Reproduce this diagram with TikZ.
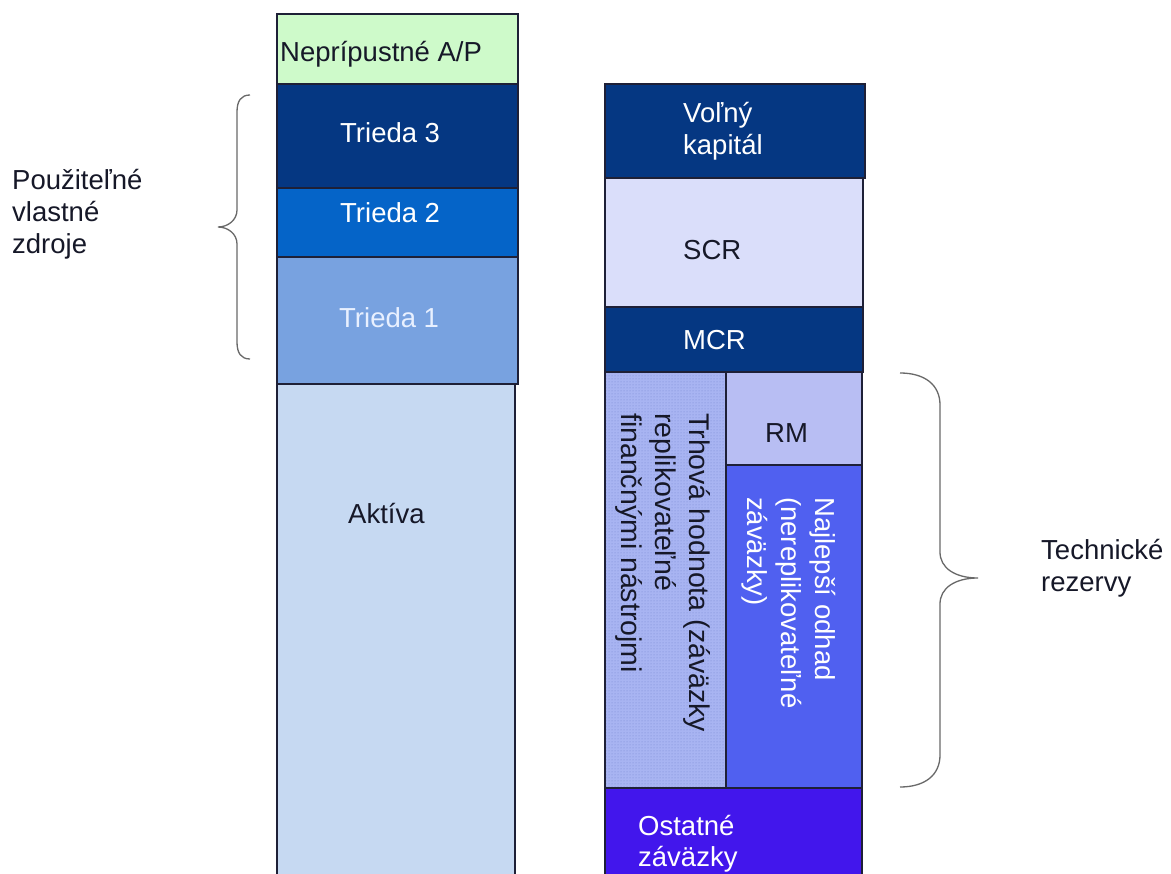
\documentclass[tikz,border=0pt]{standalone}
\usepackage{fontspec}
\setmainfont{Liberation Sans}
\usetikzlibrary{patterns}
\definecolor{bordc}{RGB}{30,32,55}
\definecolor{napc}{RGB}{206,250,202}
\definecolor{navyc}{RGB}{5,55,130}
\definecolor{tr2c}{RGB}{5,100,200}
\definecolor{tr1c}{RGB}{120,162,224}
\definecolor{aktc}{RGB}{198,217,242}
\definecolor{scrc}{RGB}{218,222,250}
\definecolor{trhc}{RGB}{168,180,242}
\definecolor{trhdot}{RGB}{120,135,210}
\definecolor{rmc}{RGB}{184,190,243}
\definecolor{najc}{RGB}{80,96,240}
\definecolor{ostc}{RGB}{66,22,236}
\definecolor{darktext}{RGB}{22,24,40}
\definecolor{lighttext}{RGB}{232,240,255}
\definecolor{bracec}{RGB}{105,105,105}
\begin{document}
\begin{tikzpicture}[x=1pt,y=-1pt,
  box/.style={draw=bordc, line width=1.4pt, inner sep=0pt, outer sep=0pt, anchor=north west},
  lbl/.style={font=\fontsize{27.5}{32}\selectfont, inner sep=0pt, anchor=base west},
  rlbl/.style={lbl, rotate=-90},
  rlblw/.style={rlbl, font=\fontsize{28.5}{34}\selectfont},
  brace/.style={draw=bracec, line width=1.3pt}]
\clip (0,0) rectangle (1171,874);
\fill[white] (0,0) rectangle (1171,874);
% left column
\node[box, fill=aktc, minimum width=238pt, minimum height=520pt] (akt) at (277,384) {};
\node[box, fill=napc, minimum width=241pt, minimum height=70pt] (nap) at (277,14) {};
\node[box, fill=navyc, minimum width=241pt, minimum height=104pt] (t3) at (277,84) {};
\node[box, fill=tr2c, minimum width=241pt, minimum height=69pt] (t2) at (277,188) {};
\node[box, fill=tr1c, minimum width=241pt, minimum height=127pt] (t1) at (277,257) {};
\node[lbl, text=darktext] (napt) at (280,62) {Neprípustné A/P};
\node[lbl, text=white] (t3t) at (340,143) {Trieda 3};
\node[lbl, text=white] (t2t) at (340,223) {Trieda 2};
\node[lbl, text=lighttext] (t1t) at (339,328) {Trieda 1};
\node[lbl, text=darktext] (aktt) at (348,524) {Aktíva};
% right column
\node[box, fill=navyc, minimum width=260pt, minimum height=94pt] (vol) at (605,84) {};
\node[box, fill=scrc, minimum width=258pt, minimum height=129pt] (scr) at (605,178) {};
\node[box, fill=navyc, minimum width=258pt, minimum height=65pt] (mcr) at (605,307) {};
\node[box, fill=trhc, minimum width=121pt, minimum height=416pt] (trh) at (605,372) {};
\fill[pattern=dots, pattern color=trhdot] (606,373) rectangle (725,787);
\draw[bordc, line width=1.4pt] (trh.north west) rectangle (trh.south east);
\node[box, fill=rmc, minimum width=136pt, minimum height=93pt] (rm) at (726,372) {};
\node[box, fill=najc, minimum width=136pt, minimum height=323pt] (naj) at (726,465) {};
\node[box, fill=ostc, minimum width=257pt, minimum height=120pt] (ost) at (605,788) {};
\node[lbl, text=white] (vol1) at (683,123) {Voľný};
\node[lbl, text=white] (vol2) at (683,155) {kapitál};
\node[lbl, text=darktext] (scrt) at (683,260) {SCR};
\node[lbl, text=white] (mcrt) at (683,350) {MCR};
\node[lbl, text=darktext] (rmt) at (765,443) {RM};
\node[rlblw, text=darktext] (trh1) at (689,413) {Trhová hodnota (záväzky};
\node[rlblw, text=darktext] (trh2) at (655,413) {replikovateľné};
\node[rlblw, text=darktext] (trh3) at (621,413) {finančnými nástrojmi};
\node[rlbl, text=white] (naj1) at (815,497) {Najlepší odhad};
\node[rlbl, text=white] (naj2) at (781,497) {(nereplikovateľné};
\node[rlbl, text=white] (naj3) at (747,497) {záväzky)};
\node[lbl, text=white] (ost1) at (638,835) {Ostatné};
\node[lbl, text=white] (ost2) at (638,866) {záväzky};
% side labels
\node[lbl, text=darktext] (pvz1) at (12,190) {Použiteľné};
\node[lbl, text=darktext] (pvz2) at (12,222) {vlastné};
\node[lbl, text=darktext] (pvz3) at (12,254) {zdroje};
\node[lbl, text=darktext] (tr1) at (1041,560) {Technické};
\node[lbl, text=darktext] (tr2) at (1041,591) {rezervy};
% braces
\draw[brace] (250,95) .. controls (241,95) and (237,101) .. (237,112) -- (237,210)
  .. controls (237,220) and (228,227) .. (218,227)
  .. controls (228,227) and (237,234) .. (237,244) -- (237,342)
  .. controls (237,353) and (241,359) .. (250,359);
\draw[brace] (900,373) .. controls (925,373) and (940,385) .. (940,405) -- (940,552)
  .. controls (940,568) and (955,578) .. (978,578)
  .. controls (955,578) and (940,588) .. (940,604) -- (940,755)
  .. controls (940,775) and (925,787) .. (900,787);
\end{tikzpicture}
\end{document}
